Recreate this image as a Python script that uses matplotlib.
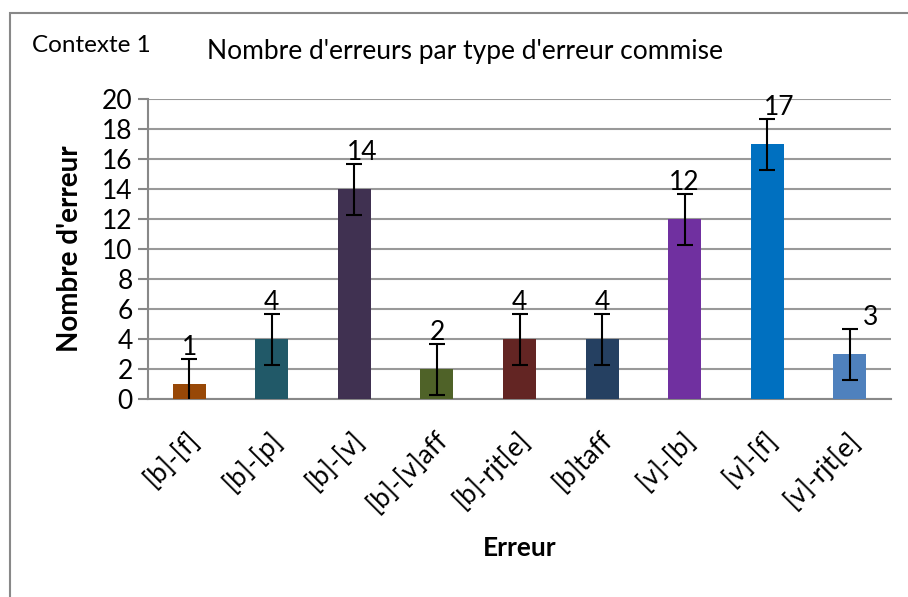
import numpy as np
import matplotlib.pyplot as plt
from matplotlib.patches import Rectangle

categories = ["[b]-[f]", "[b]-[p]", "[b]-[v]", "[b]-[v]aff", "[b]-rjt[e]",
              "[b]taff", "[v]-[b]", "[v]-[f]", "[v]-rjt[e]"]
values = [1, 4, 14, 2, 4, 4, 12, 17, 3]
errors = [1.7, 1.7, 1.7, 1.7, 1.7, 1.7, 1.7, 1.7, 1.7]
colors = ["#984807", "#215968", "#403151", "#4F6228", "#632523",
          "#254061", "#7030A0", "#0070C0", "#4F81BD"]
# small horizontal nudges of the data labels, as in the original
label_dx = [0, 0, 0.1, 0, 0, 0, 0, 0.15, 0.25]

plt.rcParams['font.family'] = ['Lato', 'DejaVu Sans']

fig = plt.figure(figsize=(9.08, 5.97), dpi=100)
ax = fig.add_axes([148 / 908, 1 - 399 / 597, (891 - 148) / 908, 300 / 597])

x = np.arange(len(categories))
ax.bar(x, values, width=0.4, color=colors, zorder=3)
ax.errorbar(x, values, yerr=errors, fmt='none', ecolor='black',
            elinewidth=1.5, capsize=6, capthick=1.5, zorder=4)

for xi, v, dx in zip(x, values, label_dx):
    ax.text(xi + dx, v + 1.6, str(v), ha='center', va='bottom',
            fontsize=19, zorder=5)

ax.set_xlim(-0.5, len(categories) - 0.5)
ax.set_ylim(0, 20)
ax.set_yticks(range(0, 21, 2))
ax.tick_params(axis='y', labelsize=19, length=7, width=1.5, color='#888888', pad=4)
ax.tick_params(axis='x', length=0, pad=20)
ax.set_xticks(x - 0.03)
ax.set_xticklabels(categories, rotation=45, ha='right', rotation_mode='anchor',
                   fontsize=19)
ax.yaxis.grid(True, color='#999999', linewidth=1.5, zorder=0)
for s in ['top', 'right']:
    ax.spines[s].set_visible(False)
for s in ['left', 'bottom']:
    ax.spines[s].set_color('#888888')
    ax.spines[s].set_linewidth(1.5)

ax.set_ylabel("Nombre d'erreur", fontsize=20, fontweight='bold', labelpad=14)
ax.set_xlabel("Erreur", fontsize=19, fontweight='bold', labelpad=14)

fig.text(207 / 908, 1 - 52 / 597, "Nombre d'erreurs par type d'erreur commise",
         fontsize=19, va='center', ha='left')
fig.text(32 / 908, 1 - 45 / 597, "Contexte 1", fontsize=17.5, va='center', ha='left')

# outer chart border (top and left edges visible)
fig.patches.append(Rectangle((10 / 908, -0.01), 1.0, 1 - 13 / 597 + 0.01,
                             transform=fig.transFigure, fill=False,
                             edgecolor='#888888', linewidth=1.5))

fig.savefig("out.png", dpi=100)
